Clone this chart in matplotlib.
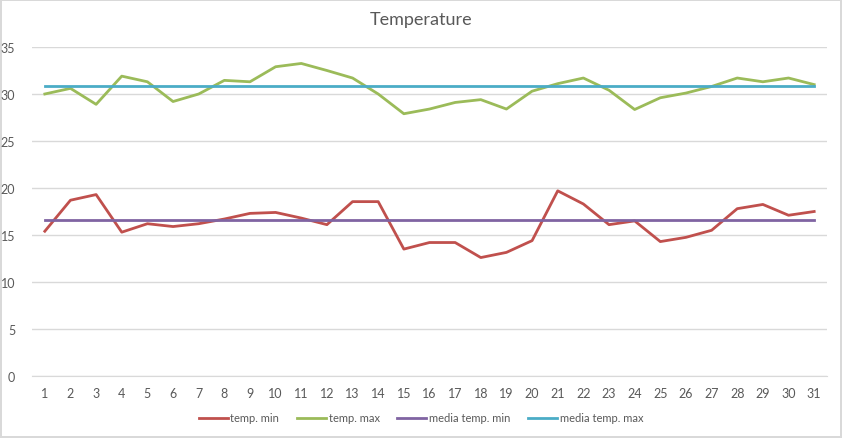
import matplotlib
matplotlib.use("Agg")
import matplotlib.pyplot as plt

days = list(range(1, 32))
temp_min = [15.4, 18.7, 19.3, 15.3, 16.2, 15.9, 16.2, 16.7, 17.3, 17.4, 16.8, 16.1,
            18.55, 18.55, 13.5, 14.2, 14.2, 12.6, 13.15, 14.4, 19.7, 18.3, 16.1, 16.5,
            14.3, 14.75, 15.5, 17.8, 18.25, 17.1, 17.5]
temp_max = [30.0, 30.6, 28.9, 31.9, 31.3, 29.2, 30.0, 31.45, 31.3, 32.9, 33.25, 32.5,
            31.7, 30.0, 27.9, 28.4, 29.1, 29.4, 28.4, 30.3, 31.1, 31.7, 30.4, 28.35,
            29.6, 30.1, 30.8, 31.7, 31.3, 31.7, 31.0]
media_min = [16.55] * 31
media_max = [30.9] * 31
y_ticks = [0, 5, 10, 15, 20, 25, 30, 35]

plt.rcParams['font.family'] = ['Lato', 'DejaVu Sans']

fig = plt.figure(figsize=(8.42, 4.39), dpi=100)
fig.patch.set_edgecolor('#d9d9d9')
fig.patch.set_linewidth(1.5)
ax = fig.add_axes([32/842, 1-377/439, (827-32)/842, (377-48)/439])

lw = 2.0
ax.plot(days, temp_min, color='#C0504D', lw=lw, label='temp. min', zorder=3)
ax.plot(days, temp_max, color='#9BBB59', lw=lw, label='temp. max', zorder=3)
ax.plot(days, media_min, color='#8064A2', lw=lw, label='media temp. min', zorder=3)
ax.plot(days, media_max, color='#4BACC6', lw=lw, label='media temp. max', zorder=3)

ax.set_xlim(0.5, 31.5)
ax.set_ylim(0, 35)
ax.set_yticks(y_ticks)
ax.set_xticks(days)
ax.grid(axis='y', color='#d9d9d9', lw=1)
ax.set_axisbelow(True)
for s in ['top', 'right', 'left']:
    ax.spines[s].set_visible(False)
ax.spines['bottom'].set_color('#d9d9d9')
ax.tick_params(axis='both', length=0, colors='#595959', labelsize=9)
ax.tick_params(axis='y', pad=12)
ax.tick_params(axis='x', pad=8)

fig.text(0.5, 1-20/439, 'Temperature', ha='center', va='center', fontsize=13, color='#595959')
fig.legend(loc='center', bbox_to_anchor=(0.5, 1-419/439), ncol=4, frameon=False,
           fontsize=8, labelcolor='#595959', handlelength=2.6, handletextpad=0.25,
           columnspacing=1.6)

fig.savefig('out.png', dpi=100)
